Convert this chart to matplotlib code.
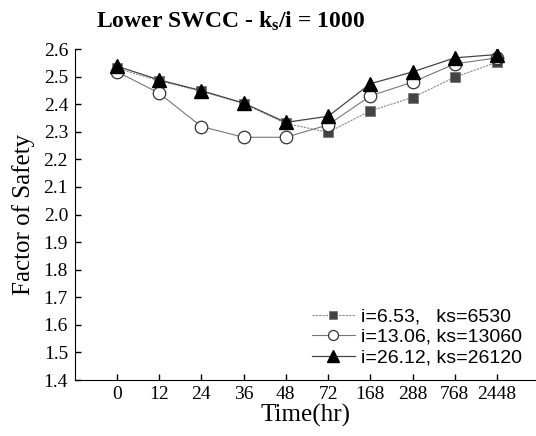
import matplotlib
matplotlib.use("Agg")
import matplotlib.pyplot as plt
import numpy as np

# data
times = ["0", "12", "24", "36", "48", "72", "168", "288", "768", "2448"]
fs_653 = [2.53, 2.485, 2.447, 2.402, 2.330, 2.298, 2.376, 2.424, 2.498, 2.552]
fs_1306 = [2.518, 2.440, 2.319, 2.280, 2.280, 2.325, 2.430, 2.480, 2.546, 2.568]
fs_2612 = [2.538, 2.488, 2.449, 2.404, 2.334, 2.356, 2.474, 2.517, 2.568, 2.580]
labels = ["i=6.53,   ks=6530", "i=13.06, ks=13060", "i=26.12, ks=26120"]
yticks = np.round(np.arange(1.4, 2.61, 0.1), 1)

plt.rcParams['font.family'] = 'Liberation Serif'
plt.rcParams['mathtext.fontset'] = 'custom'
plt.rcParams['mathtext.rm'] = 'Liberation Serif'
plt.rcParams['mathtext.bf'] = 'Liberation Serif:bold'
plt.rcParams['mathtext.it'] = 'Liberation Serif:italic'

fig = plt.figure(figsize=(5.36, 4.36), dpi=100)
ax = fig.add_axes([75/536, 56/436, 461/536, 331/436])

x = np.arange(len(times))
ax.plot(x, fs_653, color='#888888', lw=0.8, ls=(0, (2, 1)),
        marker='s', ms=6.5, mfc='#444444', mec='#777777', mew=0.6, label=labels[0])
ax.plot(x, fs_1306, color='#777777', lw=0.8,
        marker='o', ms=9, mfc='white', mec='#333333', mew=0.9, label=labels[1])
ax.plot(x, fs_2612, color='#444444', lw=0.9,
        marker='^', ms=10, mfc='black', mec='black', label=labels[2])

ax.set_xlim(-0.99, 9.92)
ax.set_ylim(1.4, 2.6)
ax.set_xticks(x)
ax.set_xticklabels(times)
ax.set_yticks(yticks)
ax.set_yticklabels(["%.1f" % v for v in yticks])
ax.tick_params(direction='in', length=4, width=1, labelsize=14)
ax.tick_params(axis='x', pad=4)
ax.tick_params(axis='y', pad=5)
ax.spines['top'].set_visible(False)
ax.spines['right'].set_visible(False)

ax.set_xlabel("Time(hr)", fontsize=18, labelpad=1)
ax.set_ylabel("Factor of Safety", fontsize=18, labelpad=6)

fig.text(96/536, 1 - 21/436, r"Lower SWCC - $\mathbf{k_s}$/i = 1000",
         fontsize=17, fontweight='bold', ha='left', va='center')

ax.legend(loc='lower right', bbox_to_anchor=(1.0, 0.0), frameon=False,
          prop={'family': 'Liberation Sans', 'size': 14}, markerscale=0.8,
          handlelength=2.2, handletextpad=0.35, labelspacing=0.15, borderaxespad=0.3)

fig.savefig("out.png", dpi=100)
